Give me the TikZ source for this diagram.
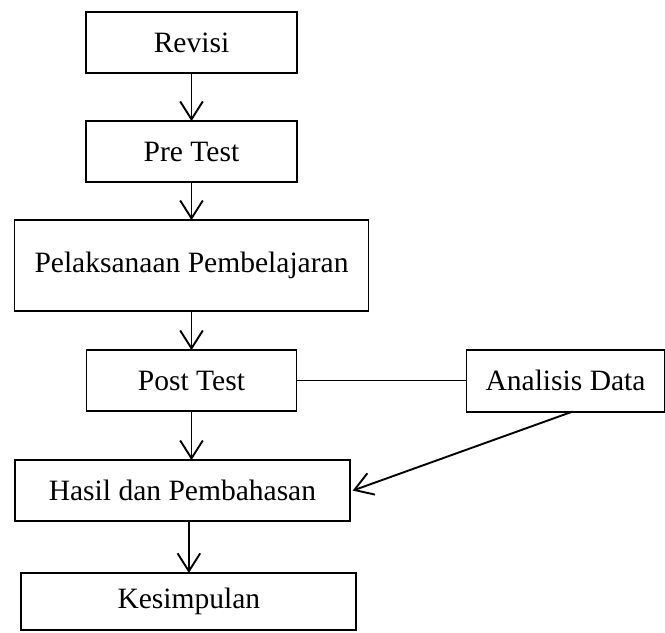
\documentclass[tikz,border=0pt,12pt]{standalone}
\usepackage{fontspec}
\setmainfont{Liberation Serif}
\usetikzlibrary{positioning, arrows.meta}

\begin{document}
\begin{tikzpicture}[
    x=0.42pt, y=-0.42pt,
    box/.style={rectangle, draw, line width=0.8pt, inner sep=1pt, outer sep=0pt, minimum height=25.6pt, font=\fontsize{12.4}{14}\selectfont},
    arr/.style={line width=0.8pt, -{Straight Barb[length=7.5pt, width=9.5pt, line width=0.8pt]}},
    ]
	\useasboundingbox (0,0) rectangle (665,633);
	% Revisi
	\node[box, minimum width=88.6pt] (revisi) at (191.5,42.5) {Revisi};
	% Pre test
	\node[box, minimum width=88.6pt, below=20.2pt of revisi] (pre) {Pre Test};
	% Pelaksanaan
	\node[box, minimum width=148.7pt, minimum height=38.2pt, below=16pt of pre] (pelaksanaan) {Pelaksanaan Pembelajaran};
	% Post test
	\node[box, minimum width=88.2pt, below=16.4pt of pelaksanaan] (post) {Post Test};
	% Analisis
	\node[box, minimum width=83.2pt, minimum height=26pt, right=71.4pt of post] (analisis) {Analisis Data};
	% Hasil
	\node[box, minimum width=141pt, below=20.6pt of post, xshift=-3.8pt] (hasil) {Hasil dan Pembahasan};
	% Kesimpulan
	\node[box, minimum width=140.7pt, minimum height=24pt, below=21.8pt of hasil, xshift=2.7pt] (kesimpulan) {Kesimpulan};

	% Edges
	\draw[arr] (revisi) -- (pre);
	\draw[arr] (pre) -- (pelaksanaan);
	\draw[arr] (pelaksanaan) -- (post);
	\draw[line width=0.6pt] (post) -- (analisis);
	\draw[arr] (post.south) -- (post.south |- hasil.north);
	\draw[arr] ([xshift=3pt]analisis.south) -- ([xshift=1pt]hasil.east);
	\draw[arr] (hasil.south -| kesimpulan.north) -- (kesimpulan.north);
\end{tikzpicture}
\end{document}
